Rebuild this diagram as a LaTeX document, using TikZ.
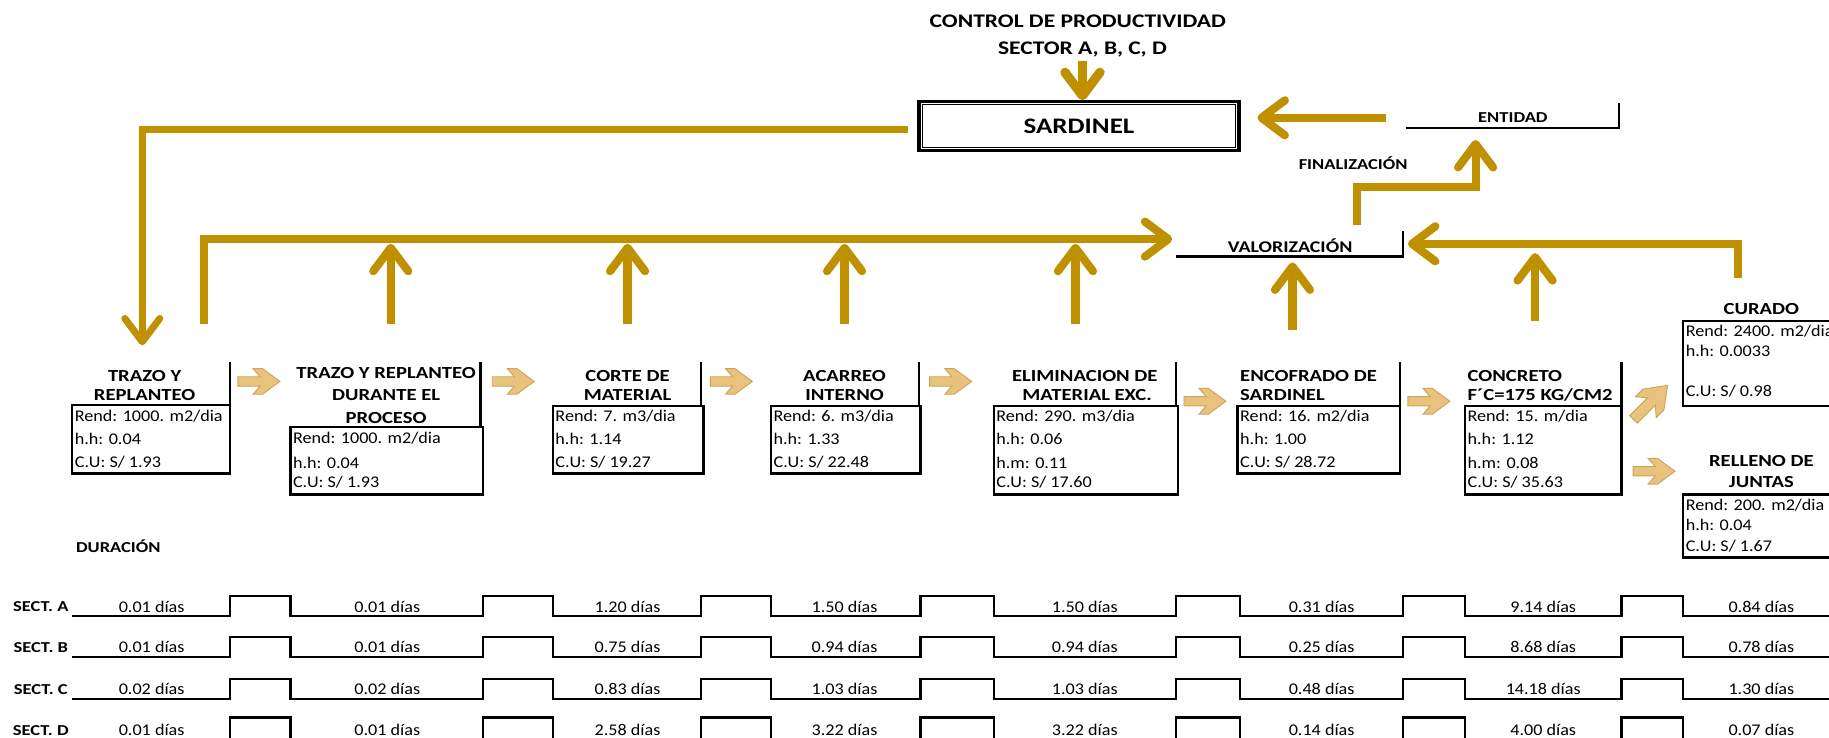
\documentclass[tikz,border=0pt]{standalone}
\usepackage{fontspec}
\setmainfont{Carlito}[FakeStretch=1.11]
\newfontfamily\wideb{Carlito}[FakeStretch=1.22]
\usetikzlibrary{arrows.meta}
\definecolor{gold}{RGB}{191,144,0}
\definecolor{tanfill}{RGB}{233,194,125}
\definecolor{tanline}{RGB}{205,165,85}
\begin{document}
\begin{tikzpicture}[x=1pt,y=-1pt,
  flow/.style={draw=gold,line width=7pt,-{Straight Barb[length=20pt,width=30pt,round]}},
  frame/.style={draw=black,line width=2pt},
  ttl/.style={font=\wideb\fontsize{14.5}{16}\selectfont\bfseries,inner sep=0pt},
  dat/.style={font=\fontsize{14}{16}\selectfont,inner sep=0pt,anchor=west},
  lbl/.style={font=\wideb\fontsize{13}{14}\selectfont\bfseries,inner sep=0pt},
  dur/.style={font=\fontsize{14}{16}\selectfont,inner sep=0pt},
  wave/.style={draw=black,line width=2pt},
  pics/tanarrow/.style={code={
    \filldraw[fill=tanfill,draw=tanline,line width=0.8pt]
      (-18,-4) -- (1,-4) -- (-5,-11) -- (3,-11) -- (18,0) -- (3,11)
      -- (-5,11) -- (1,4) -- (-18,4) -- cycle;}}
]
\useasboundingbox (0,0) rectangle (1568,632);

% heading
\node[font=\wideb\fontsize{16.5}{18}\selectfont\bfseries,inner sep=0pt] (head1) at (924,18) {CONTROL DE PRODUCTIVIDAD};
\node[font=\wideb\fontsize{16.5}{18}\selectfont\bfseries,inner sep=0pt] (head2) at (928,42) {SECTOR A, B, C, D};

% main box
\node[draw,line width=3pt,minimum width=274pt,minimum height=42pt,inner sep=0pt,
      font=\wideb\fontsize{19}{21}\selectfont\bfseries] (sard) at (925,108) {SARDINEL};
\draw[line width=0.8pt] ([shift={(4,4)}]sard.north west) rectangle ([shift={(-4,-4)}]sard.south east);

% ENTIDAD / VALORIZACION / FINALIZACION
\node[lbl] (ent) at (1297,101) {ENTIDAD};
\draw[frame] (1205,110) -- (1388,110) -- (1388,88);
\node[lbl,font=\wideb\fontsize{14}{15}\selectfont\bfseries] (val) at (1106,211) {VALORIZACIÓN};
\draw[frame] (1008,220) -- (1203,220) -- (1203,198);
\node[lbl] (fin) at (1160,140) {FINALIZACIÓN};

% gold feedback arrows
\coordinate (c1) at (928,52);   \coordinate (c1e) at (928,86);
\coordinate (c2) at (1188,101); \coordinate (c2e) at (1078,101);
\coordinate (c3) at (778,111);  \coordinate (c3m) at (122,111); \coordinate (c3e) at (122,296);
\coordinate (c4) at (175,278);  \coordinate (c4m) at (175,205); \coordinate (c4e) at (1005,205);
\coordinate (c5) at (1490,238); \coordinate (c5m) at (1490,209); \coordinate (c5e) at (1207,209);
\coordinate (c6) at (1163,193); \coordinate (c6a) at (1163,160); \coordinate (c6b) at (1265,160); \coordinate (c6e) at (1265,120);
\draw[flow,line width=8pt] (c1) -- (c1e);
\draw[flow] (c2) -- (c2e);
\draw[flow,line width=6pt] (c3) -- (c3m) -- (c3e);
\draw[flow] (c4) -- (c4m) -- (c4e);
\draw[flow] (c5) -- (c5m) -- (c5e);
\draw[flow] (c6) -- (c6a) -- (c6b) -- (c6e);
\foreach \x/\ya/\yb [count=\k] in {335/278/209,538/278/209,724/278/209,922/278/209,1108/283/225,1316/275/217}{
  \coordinate (u\k) at (\x,\ya); \coordinate (u\k e) at (\x,\yb);
  \draw[flow] (u\k) -- (u\k e);
}

% activity 1
\node[ttl] (t1a) at (124,322) {TRAZO Y};
\node[ttl] (t1b) at (124,339) {REPLANTEO};
\draw[frame] (197,310) -- (197,347);
\draw[frame] (62,347) rectangle (197,406);
\node[dat] (b1a) at (64,357) {Rend: 1000. m2/dia};
\node[dat] (b1b) at (64,376) {h.h: 0.04};
\node[dat] (b1c) at (64,396) {C.U: S/ 1.93};

% activity 2
\node[ttl] (t2a) at (331,320) {TRAZO Y REPLANTEO};
\node[ttl] (t2b) at (331,339) {DURANTE EL};
\node[ttl] (t2c) at (331,358) {PROCESO};
\draw[frame] (412,310) -- (412,366);
\draw[frame] (249,366) rectangle (414,424);
\node[dat] (b2a) at (251,376) {Rend: 1000. m2/dia};
\node[dat] (b2b) at (251,397) {h.h: 0.04};
\node[dat] (b2c) at (251,413) {C.U: S/ 1.93};

% activity 3
\node[ttl] (t3a) at (538,322) {CORTE DE};
\node[ttl] (t3b) at (538,339) {MATERIAL};
\draw[frame] (601,310) -- (601,348);
\draw[frame] (474,348) rectangle (603,406);
\node[dat] (b3a) at (476,357) {Rend: 7. m3/dia};
\node[dat] (b3b) at (476,376) {h.h: 1.14};
\node[dat] (b3c) at (476,396) {C.U: S/ 19.27};

% activity 4
\node[ttl] (t4a) at (724,322) {ACARREO};
\node[ttl] (t4b) at (724,339) {INTERNO};
\draw[frame] (788,310) -- (788,348);
\draw[frame] (661,348) rectangle (789,406);
\node[dat] (b4a) at (663,357) {Rend: 6. m3/dia};
\node[dat] (b4b) at (663,376) {h.h: 1.33};
\node[dat] (b4c) at (663,396) {C.U: S/ 22.48};

% activity 5
\node[ttl] (t5a) at (930,322) {ELIMINACION DE};
\node[ttl] (t5b) at (932,339) {MATERIAL EXC.};
\draw[frame] (1008,310) -- (1008,348);
\draw[frame] (852,348) rectangle (1010,424);
\node[dat] (b5a) at (854,357) {Rend: 290. m3/dia};
\node[dat] (b5b) at (854,376) {h.h: 0.06};
\node[dat] (b5c) at (854,397) {h.m: 0.11};
\node[dat] (b5d) at (854,413) {C.U: S/ 17.60};

% activity 6
\node[ttl,anchor=west] (t6a) at (1063,322) {ENCOFRADO DE};
\node[ttl,anchor=west] (t6b) at (1063,339) {SARDINEL};
\draw[frame] (1200,310) -- (1200,348);
\draw[frame] (1061,348) rectangle (1200,406);
\node[dat] (b6a) at (1063,357) {Rend: 16. m2/dia};
\node[dat] (b6b) at (1063,376) {h.h: 1.00};
\node[dat] (b6c) at (1063,396) {C.U: S/ 28.72};

% activity 7
\node[ttl,anchor=west] (t7a) at (1258,322) {CONCRETO};
\node[ttl,anchor=west] (t7b) at (1258,339) {F´C=175 KG/CM2};
\draw[frame] (1390,310) -- (1390,348);
\draw[frame] (1256,348) rectangle (1390,424);
\node[dat] (b7a) at (1258,357) {Rend: 15. m/dia};
\node[dat] (b7b) at (1258,376) {h.h: 1.12};
\node[dat] (b7c) at (1258,397) {h.m: 0.08};
\node[dat] (b7d) at (1258,413) {C.U: S/ 35.63};

% activity 8 (curing)
\node[ttl] (t8a) at (1510,265) {CURADO};
\draw[frame] (1443,275) rectangle (1600,348);
\node[dat] (b8a) at (1445,284) {Rend: 2400. m2/dia};
\node[dat] (b8b) at (1445,301) {h.h: 0.0033};
\node[dat] (b8c) at (1445,335) {C.U: S/ 0.98};

% activity 9 (joint filling)
\node[ttl] (t9a) at (1510,395) {RELLENO DE};
\node[ttl] (t9b) at (1510,413) {JUNTAS};
\draw[frame] (1443,424) rectangle (1600,478);
\node[dat] (b9a) at (1445,433) {Rend: 200. m2/dia};
\node[dat] (b9b) at (1445,450) {h.h: 0.04};
\node[dat] (b9c) at (1445,468) {C.U: S/ 1.67};

% sequence arrows
\pic (s1) at (222,327) {tanarrow};
\pic (s2) at (440,327) {tanarrow};
\pic (s3) at (627,327) {tanarrow};
\pic (s4) at (815,327) {tanarrow};
\pic (s5) at (1033,344) {tanarrow};
\pic (s6) at (1225,344) {tanarrow};
\pic[rotate=45,scale=1.15] (s7) at (1415,345) {tanarrow};
\pic (s8) at (1418,404) {tanarrow};

% durations
\node[lbl,anchor=west] (dlab) at (65,468) {DURACIÓN};
\foreach \r/\yt/\yh/\yl/\vals in {
   A/520/511/528/{0.01,0.01,1.20,1.50,1.50,0.31,9.14,0.84},
   B/555/546/563/{0.01,0.01,0.75,0.94,0.94,0.25,8.68,0.78},
   C/591/582/599/{0.02,0.02,0.83,1.03,1.03,0.48,14.18,1.30},
   D/626/615/634/{0.01,0.01,2.58,3.22,3.22,0.14,4.00,0.07}}{
  \node[lbl] (sect\r) at (35,\yt) {SECT. \r};
  \draw[wave] (62,\yl)
    \foreach \a/\b in {197/249,414/474,601/661,789/852,1008/1063,1203/1256,1390/1443}{
      -- (\a,\yl) -- (\a,\yh) -- (\b,\yh) -- (\b,\yl)} -- (1570,\yl);
  \foreach \v [count=\i] in \vals {
    \pgfmathsetmacro{\xc}{{130,332,538,724,930,1133,1323,1510}[\i-1]}
    \node[dur] (d\r\i) at (\xc,\yt) {\v\ días};
  }
}
\end{tikzpicture}
\end{document}
